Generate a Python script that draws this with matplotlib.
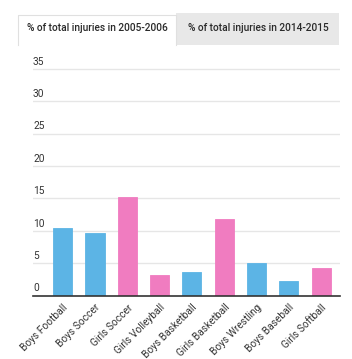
import matplotlib
matplotlib.use("Agg")
import matplotlib.pyplot as plt
from matplotlib.patches import Rectangle
from matplotlib.lines import Line2D
import matplotlib.transforms as mtransforms

categories = ["Boys Football", "Boys Soccer", "Girls Soccer", "Girls Volleyball",
              "Boys Basketball", "Girls Basketball", "Boys Wrestling",
              "Boys Baseball", "Girls Softball"]
values = [10.5, 9.6, 15.2, 3.2, 3.6, 11.9, 5.0, 2.2, 4.25]
genders = ["B", "B", "G", "G", "B", "G", "B", "B", "G"]
yticks = [0, 5, 10, 15, 20, 25, 30, 35]
tabs = ["% of total injuries in 2005-2006", "% of total injuries in 2014-2015"]

BLUE = "#5cb4e5"
PINK = "#f07cc0"
plt.rcParams['font.family'] = ['Roboto', 'DejaVu Sans']

W, H = 352, 359
fig = plt.figure(figsize=(W / 100, H / 100), dpi=100)

def fx(px):
    return px / W

def fy(py):
    return 1 - py / H

# tabs
fig.patches.append(Rectangle((fx(176), fy(45)), fx(339) - fx(176), fy(13) - fy(45),
                             transform=fig.transFigure, facecolor="#e8e8e8",
                             edgecolor="none", zorder=0))
fig.patches.append(Rectangle((fx(18), fy(45)), fx(176) - fx(18), fy(15) - fy(45),
                             transform=fig.transFigure, facecolor="white",
                             edgecolor="none", zorder=1))
fig.lines.append(Line2D([fx(18), fx(18), fx(176), fx(176)],
                        [fy(45), fy(15), fy(15), fy(45)],
                        transform=fig.transFigure, color="#e0e0e0", linewidth=0.8, zorder=2))
fig.text(fx(97), fy(28), tabs[0], ha="center", va="center", fontsize=7.3,
         color="#2a2a2a", fontweight="medium")
fig.text(fx(258), fy(28), tabs[1], ha="center", va="center", fontsize=7.3,
         color="#2a2a2a", fontweight="medium")

# axes: x from 33 to 340 px, y=0 at 295.5 px, 6.47 px per unit
left, right = 33, 340
bottom = 295.5
ymax = 36
top = bottom - ymax * 6.47
ax = fig.add_axes([fx(left), fy(bottom), fx(right) - fx(left), fy(top) - fy(bottom)])
ax.set_xlim(-0.92, 8.585)
ax.set_ylim(0, ymax)

colors = [BLUE if g == "B" else PINK for g in genders]
x = list(range(len(categories)))
ax.bar(x, values, width=0.59, color=colors, edgecolor=colors, linewidth=0.6, zorder=3)

for t in yticks[1:]:
    ax.axhline(t, color="#e6e6e6", linewidth=1.0, zorder=1)
ax.axhline(0, color="#333333", linewidth=1.2, zorder=4, clip_on=False)

trans = mtransforms.blended_transform_factory(ax.transAxes, ax.transData)
for t in yticks:
    ax.text(0.0, t + 0.35, str(t), transform=trans, ha="left", va="bottom",
            fontsize=7.3, color="#333333")

ax.set_xticks(x)
ax.set_xticklabels(categories, rotation=45, ha="right", rotation_mode="anchor",
                   fontsize=7.3, color="#333333")
ax.tick_params(axis="x", length=0, pad=5)
ax.set_yticks([])
for s in ax.spines.values():
    s.set_visible(False)
ax.patch.set_alpha(0)

fig.savefig("out.png", dpi=100)
